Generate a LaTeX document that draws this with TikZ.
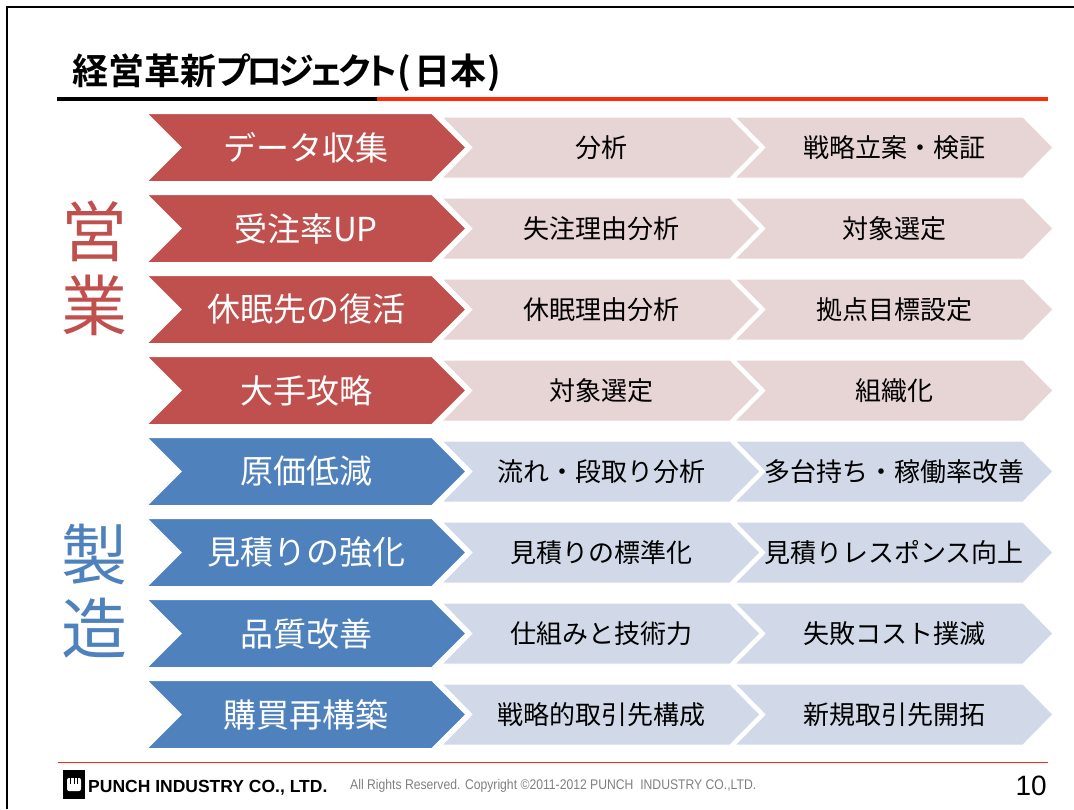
\documentclass[tikz,border=0pt]{standalone}
\usepackage{fontspec}
\usepackage{graphicx}
\setmainfont{Noto Sans CJK JP}[BoldFont={Noto Sans CJK JP Bold}]
\newfontfamily\titlefont{Noto Sans CJK JP Bold}[RawFeature=+palt]
\newfontfamily\arial{Liberation Sans}
\definecolor{salesred}{HTML}{C0504D}
\definecolor{salespale}{HTML}{E7D4D4}
\definecolor{makeblue}{HTML}{4F81BD}
\definecolor{makepale}{HTML}{D1D9E8}
\definecolor{linered}{HTML}{FF2A0A}
\begin{document}
\begin{tikzpicture}[x=1pt,y=-1pt,
  mainlab/.style={text=white,font=\fontsize{33}{33}\selectfont},
  sublab/.style={text=black,font=\fontsize{26}{26}\selectfont},
  side/.style={align=center,font=\fontsize{66}{74}\selectfont}]
\useasboundingbox (0,0) rectangle (1074,809);
\draw[line width=2.5pt] (7,809) -- (7,7) -- (1074,7);
\node[font=\titlefont\fontsize{36}{36}\selectfont,anchor=west,inner sep=0] (title) at (72,72.5) {経営革新{\addfontfeature{LetterSpace=-10}プロジェクト}(\hspace{3pt}日本\hspace{1pt})};
\draw[line width=4pt] (57,99) -- (377,99);
\draw[linered,line width=4pt] (377,99) -- (1048,99);
\foreach \main/\first/\second [count=\i] in {データ収集/分析/戦略立案・検証,受注率UP/失注理由分析/対象選定,休眠先の復活/休眠理由分析/拠点目標設定,大手攻略/対象選定/組織化,原価低減/流れ・段取り分析/多台持ち・稼働率改善,見積りの強化/見積りの標準化/見積りレスポンス向上,品質改善/仕組みと技術力/失敗コスト撲滅,購買再構築/戦略的取引先構成/新規取引先開拓}{
  \pgfmathsetmacro\c{147.5+81*(\i-1)}
  \ifnum\i<5 \def\dark{salesred}\def\pale{salespale}\else \def\dark{makeblue}\def\pale{makepale}\fi
  \filldraw[fill=\pale,draw=white,line width=1pt] (735,\c-30.5) -- ++(288,0) -- ++(30,30.5) -- ++(-30,30.5) -- ++(-288,0) -- ++(30,-30.5) -- cycle;
  \filldraw[fill=\pale,draw=white,line width=1pt] (442,\c-30.5) -- ++(288,0) -- ++(30,30.5) -- ++(-30,30.5) -- ++(-288,0) -- ++(30,-30.5) -- cycle;
  \filldraw[fill=\dark,draw=white,line width=2pt] (146,\c-34.5) -- ++(286,0) -- ++(34.5,34.5) -- ++(-34.5,34.5) -- ++(-286,0) -- ++(34.5,-34.5) -- cycle;
  \node[mainlab] (m\i) at (306,\c) {\main};
  \node[sublab] (a\i) at (601,\c) {\first};
  \node[sublab] (b\i) at (894,\c) {\second};
}
\node[side,text=salesred] (sales) at (94,268.5) {営\\業};
\node[side,text=makeblue] (make) at (94,591.5) {製\\造};
\draw[linered,line width=1.5pt] (58,762.5) -- (1048,762.5);
\fill (63,770) rectangle (85,799);
\fill[white,rounded corners=2pt] (67,778) rectangle (81,791);
\draw[line width=0.8pt] (70.5,778) -- (70.5,784) (74,778) -- (74,784) (77.5,778) -- (77.5,784);
\node[font=\arial\bfseries\fontsize{17.5}{17.5}\selectfont,anchor=base west,inner sep=0] (company) at (88,792) {PUNCH INDUSTRY CO., LTD.};
\node[font=\arial\fontsize{14}{14}\selectfont,text=gray,anchor=base west,inner sep=0] (copy) at (350,789) {\scalebox{0.87}[1]{All Rights Reserved. Copyright ©2011-2012 PUNCH\ \ INDUSTRY CO.,LTD.}};
\node[font=\arial\fontsize{28}{28}\selectfont,anchor=base east,inner sep=0] (page) at (1047,795) {10};
\end{tikzpicture}
\end{document}
